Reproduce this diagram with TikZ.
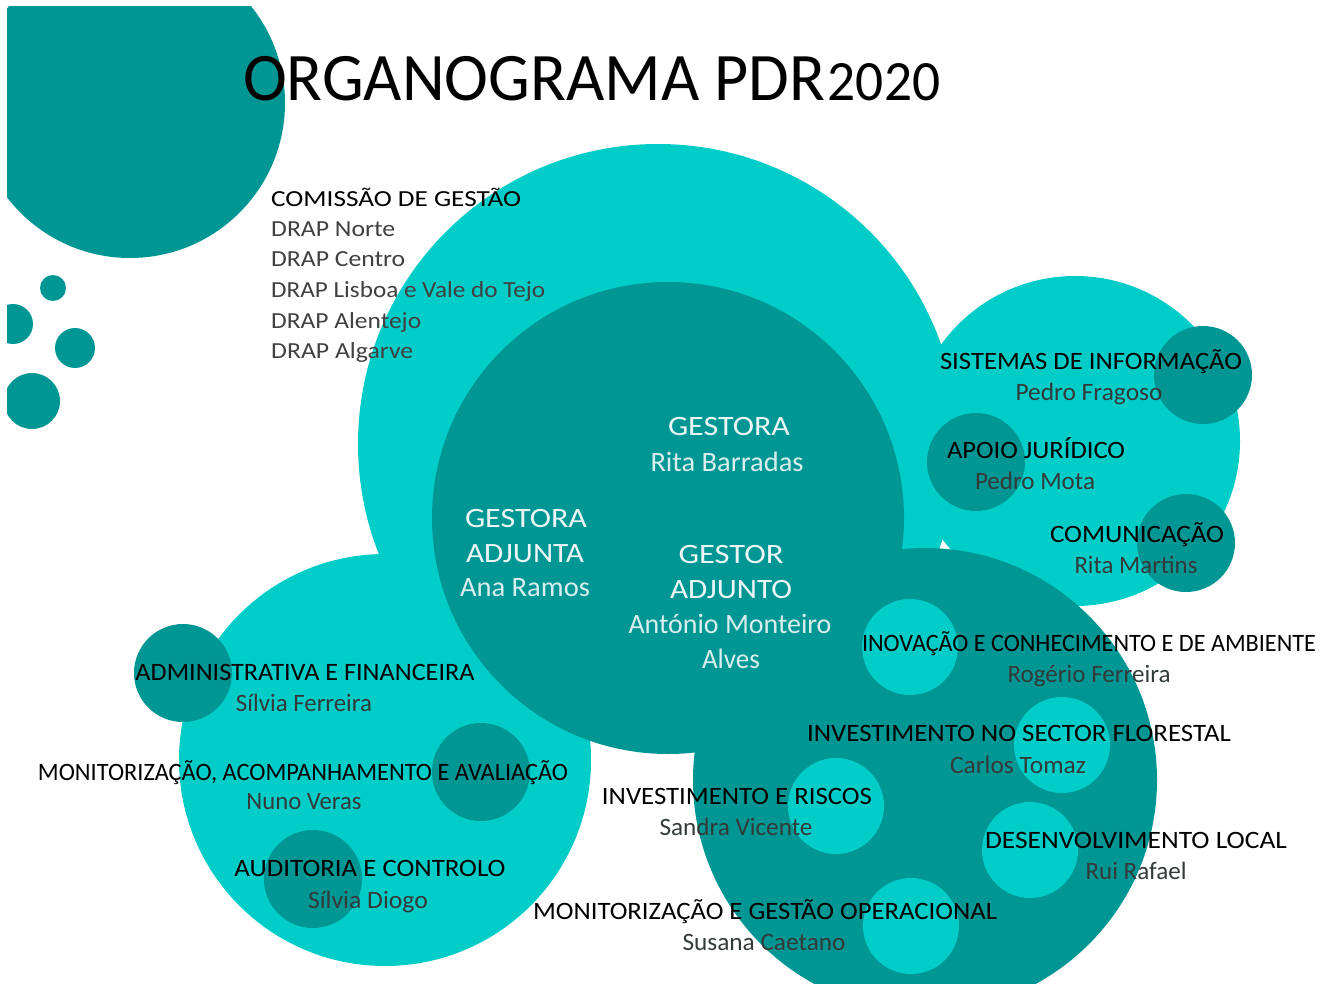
\documentclass[tikz,border=0pt]{standalone}
\usepackage{fontspec}
\setmainfont{Carlito}
\usepackage{graphicx}
\definecolor{dt}{RGB}{0,150,148}
\definecolor{lt}{RGB}{0,204,200}
\definecolor{nm}{RGB}{50,58,58}
\definecolor{dr}{RGB}{64,64,64}
\definecolor{wt}{RGB}{236,246,246}
\newcommand\fitw[2]{\resizebox{#1pt}{\height}{#2}}
\begin{document}
\begin{tikzpicture}[x=1pt,y=-1pt,
  dk/.style={fill=dt},
  lg/.style={fill=lt},
  hd/.style={inner sep=0pt, anchor=base, font=\fontsize{25}{25}\selectfont, text=black},
  nmst/.style={inner sep=0pt, anchor=base, font=\fontsize{25}{25}\selectfont, text=nm},
  cmst/.style={inner sep=0pt, anchor=base west, font=\fontsize{23}{23}\selectfont, text=black},
  drap/.style={inner sep=0pt, anchor=base west, font=\fontsize{23}{23}\selectfont, text=dr},
  wh/.style={inner sep=0pt, anchor=base, font=\fontsize{28}{28}\selectfont, text=wt},
  whn/.style={inner sep=0pt, anchor=base, font=\fontsize{28}{28}\selectfont, text=wt!92!dt}]
\useasboundingbox (0,0) rectangle (1330,984);
\begin{scope}
\clip (7,7) rectangle (1315,984);
% decorative circles
\fill[dk] (130,103) circle[radius=155pt];
\fill[dk] (53,288) circle[radius=13pt];
\fill[dk] (13,324) circle[radius=20pt];
\fill[dk] (75,348) circle[radius=20pt];
\fill[dk] (32,401) circle[radius=28pt];
% big circles
\fill[lg] (658,444) circle[radius=300pt];
\fill[lg] (385,760) circle[radius=206pt];
\fill[lg] (1075,441) circle[radius=165pt];
\fill[dk] (668,518) circle[radius=236pt];
\fill[dk] (925,780) circle[radius=232pt];
% small circles
\fill[dk] (1203,375) circle[radius=49pt];
\fill[dk] (976,462) circle[radius=49pt];
\fill[dk] (1186,543) circle[radius=49pt];
\fill[dk] (183,673) circle[radius=49pt];
\fill[dk] (481,772) circle[radius=49pt];
\fill[dk] (313,879) circle[radius=49pt];
\fill[lg] (910,647) circle[radius=48pt];
\fill[lg] (1062,745) circle[radius=48pt];
\fill[lg] (836,806) circle[radius=48pt];
\fill[lg] (1030,850) circle[radius=48pt];
\fill[lg] (911,926) circle[radius=48pt];
% title
\node[inner sep=0pt, anchor=base west, font=\fontsize{68}{68}\selectfont] (title) at (243,101)
  {\fitw{697}{ORGANOGRAMA PDR\kern3pt{\fontsize{57}{57}\selectfont 2020}}};
% comissao
\node[cmst] (cg) at (271,207) {\fitw{250}{COMISSÃO DE GESTÃO}};
\node[drap] (d1) at (271,237) {\fitw{124}{DRAP Norte}};
\node[drap] (d2) at (271,267) {\fitw{134}{DRAP Centro}};
\node[drap] (d3) at (271,298) {\fitw{274}{DRAP Lisboa e Vale do Tejo}};
\node[drap] (d4) at (271,328) {\fitw{150}{DRAP Alentejo}};
\node[drap] (d5) at (271,358) {\fitw{142}{DRAP Algarve}};
% central
\node[wh] (g1) at (729,435) {\fitw{122}{GESTORA}};
\node[whn] (g1n) at (727,471) {\fitw{153}{Rita Barradas}};
\node[wh] (ga1) at (526,527) {\fitw{122}{GESTORA}};
\node[wh] (ga2) at (525,562) {\fitw{118}{ADJUNTA}};
\node[whn] (gan) at (525,596) {\fitw{130}{Ana Ramos}};
\node[wh] (gb1) at (731,563) {\fitw{105}{GESTOR}};
\node[wh] (gb2) at (731,598) {\fitw{122}{ADJUNTO}};
\node[whn] (gbn1) at (730,633) {\fitw{203}{António Monteiro}};
\node[whn] (gbn2) at (731,668) {\fitw{58}{Alves}};
% right group
\node[hd] (si) at (1091,369) {\fitw{302}{SISTEMAS DE INFORMAÇÃO}};
\node[nmst] (sin) at (1089,400) {\fitw{147}{Pedro Fragoso}};
\node[hd] (aj) at (1036,458) {\fitw{178}{APOIO JURÍDICO}};
\node[nmst] (ajn) at (1035,489) {\fitw{120}{Pedro Mota}};
\node[hd] (co) at (1137,542) {\fitw{174}{COMUNICAÇÃO}};
\node[nmst] (con) at (1136,573) {\fitw{123}{Rita Martins}};
% bottom right group
\node[hd] (in) at (1089,651) {\fitw{454}{INOVAÇÃO E CONHECIMENTO E DE AMBIENTE}};
\node[nmst] (inn) at (1089,682) {\fitw{163}{Rogério Ferreira}};
\node[hd] (fl) at (1019,741) {\fitw{424}{INVESTIMENTO NO SECTOR FLORESTAL}};
\node[nmst] (fln) at (1018,773) {\fitw{136}{Carlos Tomaz}};
\node[hd] (ri) at (737,804) {\fitw{270}{INVESTIMENTO E RISCOS}};
\node[nmst] (rin) at (736,835) {\fitw{153}{Sandra Vicente}};
\node[hd] (dl) at (1136,848) {\fitw{302}{DESENVOLVIMENTO LOCAL}};
\node[nmst] (dln) at (1136,879) {\fitw{101}{Rui Rafael}};
\node[hd] (mg) at (765,919) {\fitw{464}{MONITORIZAÇÃO E GESTÃO OPERACIONAL}};
\node[nmst] (mgn) at (764,950) {\fitw{163}{Susana Caetano}};
% bottom left group
\node[hd] (af) at (305,680) {\fitw{339}{ADMINISTRATIVA E FINANCEIRA}};
\node[nmst] (afn) at (304,711) {\fitw{136}{Sílvia Ferreira}};
\node[hd] (ma) at (303,780) {\fitw{530}{MONITORIZAÇÃO, ACOMPANHAMENTO E AVALIAÇÃO}};
\node[nmst] (man) at (304,809) {\fitw{115}{Nuno Veras}};
\node[hd] (ac) at (370,876) {\fitw{271}{AUDITORIA E CONTROLO}};
\node[nmst] (acn) at (368,908) {\fitw{120}{Sílvia Diogo}};
\end{scope}
\end{tikzpicture}
\end{document}
